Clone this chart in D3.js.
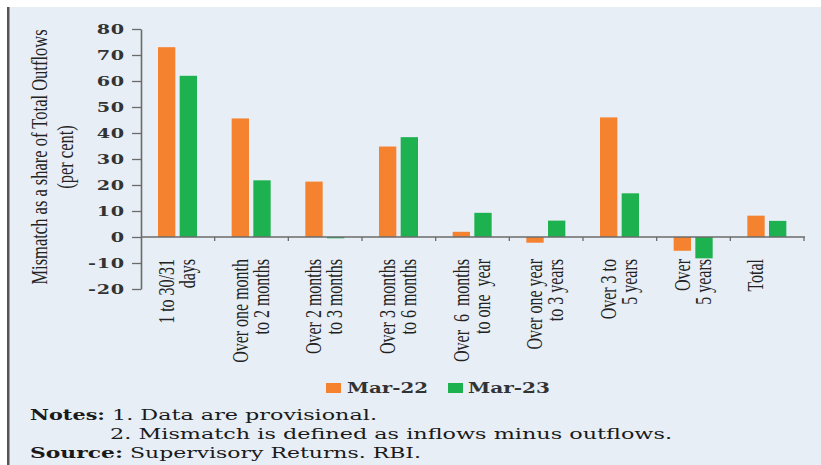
<!DOCTYPE html>
<html>
<head>
<meta charset="utf-8">
<script src="https://cdn.jsdelivr.net/npm/d3@7"></script>
<style>
  html, body { margin: 0; padding: 0; background: #ffffff; }
  svg { display: block; }
</style>
</head>
<body>
<svg id="chart" width="821" height="465"></svg>
<script>
// ---- data ----
const categories = [
  ["1 to 30/31", "days"],
  ["Over one month", "to 2 months"],
  ["Over 2 months", "to 3 months"],
  ["Over 3 months", "to 6 months"],
  ["Over  6  months", "to one  year"],
  ["Over one year", "to 3 years"],
  ["Over 3 to", "5 years"],
  ["Over", "5 years"],
  ["Total"]
];
const seriesNames = ["Mar-22", "Mar-23"];
const mar22 = [73, 45.6, 21.3, 34.8, 2.0, -2.2, 46.0, -5.3, 8.2];
const mar23 = [62, 21.8, -0.5, 38.4, 9.3, 6.3, 16.8, -8.2, 6.2];
const yTicks = [80, 70, 60, 50, 40, 30, 20, 10, 0, -10, -20];
const yTitle = ["Mismatch as a share of Total Outflows", "(per cent)"];
const notes = [
  ["Notes:", "1. Data are provisional."],
  ["", "2. Mismatch is defined as inflows minus outflows."],
  ["Source:", "Supervisory Returns. RBI."]
];

// ---- styles ----
const colors = { "Mar-22": "#f5822f", "Mar-23": "#1db24f" };
const bg = "#e7eef6";
const axisColor = "#6b6b6b";
const textColor = "#222222";

const svg = d3.select("#chart");

// panel background
svg.append("rect").attr("x", 7).attr("y", 7).attr("width", 814).attr("height", 458).attr("fill", bg);
svg.append("rect").attr("x", 7).attr("y", 7).attr("width", 2.5).attr("height", 458).attr("fill", "#555");

const plotL = 141, plotR = 804, plotT = 29, plotB = 289;
const keys = categories.map((c, i) => i);

const x = d3.scaleBand().domain(keys).range([plotL, plotR]).paddingInner(0).paddingOuter(0);
const x1 = d3.scaleBand().domain(seriesNames).range([17, 56]).paddingInner(0.2);
const y = d3.scaleLinear().domain([-20, 80]).range([plotB, plotT]);

const data = keys.map(i => ({ i, values: [
  { key: "Mar-22", value: mar22[i] },
  { key: "Mar-23", value: mar23[i] }
]}));

// bars
const g = svg.append("g");
g.selectAll("g.cat").data(data).join("g")
  .attr("class", "cat")
  .attr("transform", d => `translate(${x(d.i)},0)`)
  .selectAll("rect").data(d => d.values).join("rect")
  .attr("x", d => x1(d.key))
  .attr("width", x1.bandwidth())
  .attr("y", d => y(Math.max(0, d.value)))
  .attr("height", d => Math.abs(y(d.value) - y(0)))
  .attr("fill", d => colors[d.key]);

// y axis
const yAxis = d3.axisLeft(y).tickValues(yTicks).tickSize(9).tickSizeOuter(0).tickFormat(d3.format("d"));
const ya = svg.append("g").attr("transform", `translate(${plotL},0)`).call(yAxis);
ya.select(".domain").attr("stroke", axisColor).attr("stroke-width", 1.6);
ya.selectAll(".tick line").attr("stroke", axisColor).attr("stroke-width", 1.3);
ya.selectAll(".tick text")
  .attr("x", 0).attr("dy", "0.36em")
  .attr("transform", "translate(-16,0) scale(1.6,1)")
  .attr("text-anchor", "end")
  .attr("fill", "#333")
  .style("font-family", "'DejaVu Serif', serif")
  .style("font-size", "12px")
  .style("font-weight", "bold")
  .style("letter-spacing", "0.5px")
  .text(d => d < 0 ? "-" + Math.abs(d) : d);

// zero line
svg.append("line")
  .attr("x1", plotL).attr("x2", plotR + 1)
  .attr("y1", y(0)).attr("y2", y(0))
  .attr("stroke", axisColor).attr("stroke-width", 1.6);
// category boundary ticks
svg.selectAll("line.ctick").data(keys).join("line")
  .attr("class", "ctick")
  .attr("x1", d => x(d) + x.step()).attr("x2", d => x(d) + x.step())
  .attr("y1", y(0)).attr("y2", y(0) + 4)
  .attr("stroke", axisColor).attr("stroke-width", 1.3);

// category labels (rotated)
const labY = 259;
categories.forEach((lines, i) => {
  const cx = x(i) + x.bandwidth() / 2;
  lines.forEach((ln, j) => {
    svg.append("text")
      .attr("transform", `translate(${cx - 4 + j * 21},${labY}) rotate(-90) scale(1,1.45)`)
      .attr("text-anchor", "end")
      .attr("fill", textColor)
      .style("font-family", "'Liberation Serif', serif")
      .style("font-size", "16px")
      .style("white-space", "pre")
      .text(ln);
  });
});

// y title
yTitle.forEach((ln, j) => {
  svg.append("text")
    .attr("transform", `translate(${47 + j * 26},157) rotate(-90) scale(1,1.45)`)
    .attr("text-anchor", "middle")
    .attr("fill", textColor)
    .style("font-family", "'Liberation Serif', serif")
    .style("font-size", "16.5px")
    .text(ln);
});

// legend
const legendPos = [{ sq: 326, tx: 347, end: 428 }, { sq: 448, tx: 468, end: 550 }];
seriesNames.forEach((s, i) => {
  const p = legendPos[i];
  svg.append("rect").attr("x", p.sq).attr("y", 383).attr("width", 15).attr("height", 10).attr("fill", colors[s]);
  svg.append("text")
    .attr("x", p.tx).attr("y", 393)
    .attr("textLength", p.end - p.tx).attr("lengthAdjust", "spacingAndGlyphs")
    .attr("fill", "#333")
    .style("font-family", "'DejaVu Serif', serif")
    .style("font-size", "15px")
    .style("font-weight", "bold")
    .text(s);
});

// notes
const notePos = [
  { y: 420, a: [30, 105], b: [112, 377] },
  { y: 439, a: null, b: [110, 672] },
  { y: 458, a: [30, 123], b: [130, 421] }
];
notes.forEach((n, i) => {
  const p = notePos[i];
  if (n[0]) {
    svg.append("text")
      .attr("x", p.a[0]).attr("y", p.y)
      .attr("textLength", p.a[1] - p.a[0]).attr("lengthAdjust", "spacingAndGlyphs")
      .attr("fill", "#1a1a1a")
      .style("font-family", "'DejaVu Serif', serif")
      .style("font-size", "14px").style("font-weight", "bold")
      .text(n[0]);
  }
  svg.append("text")
    .attr("x", p.b[0]).attr("y", p.y)
    .attr("textLength", p.b[1] - p.b[0]).attr("lengthAdjust", "spacingAndGlyphs")
    .attr("fill", "#1a1a1a")
    .style("font-family", "'DejaVu Serif', serif")
    .style("font-size", "14px")
    .text(n[1]);
});
</script>
</body>
</html>
